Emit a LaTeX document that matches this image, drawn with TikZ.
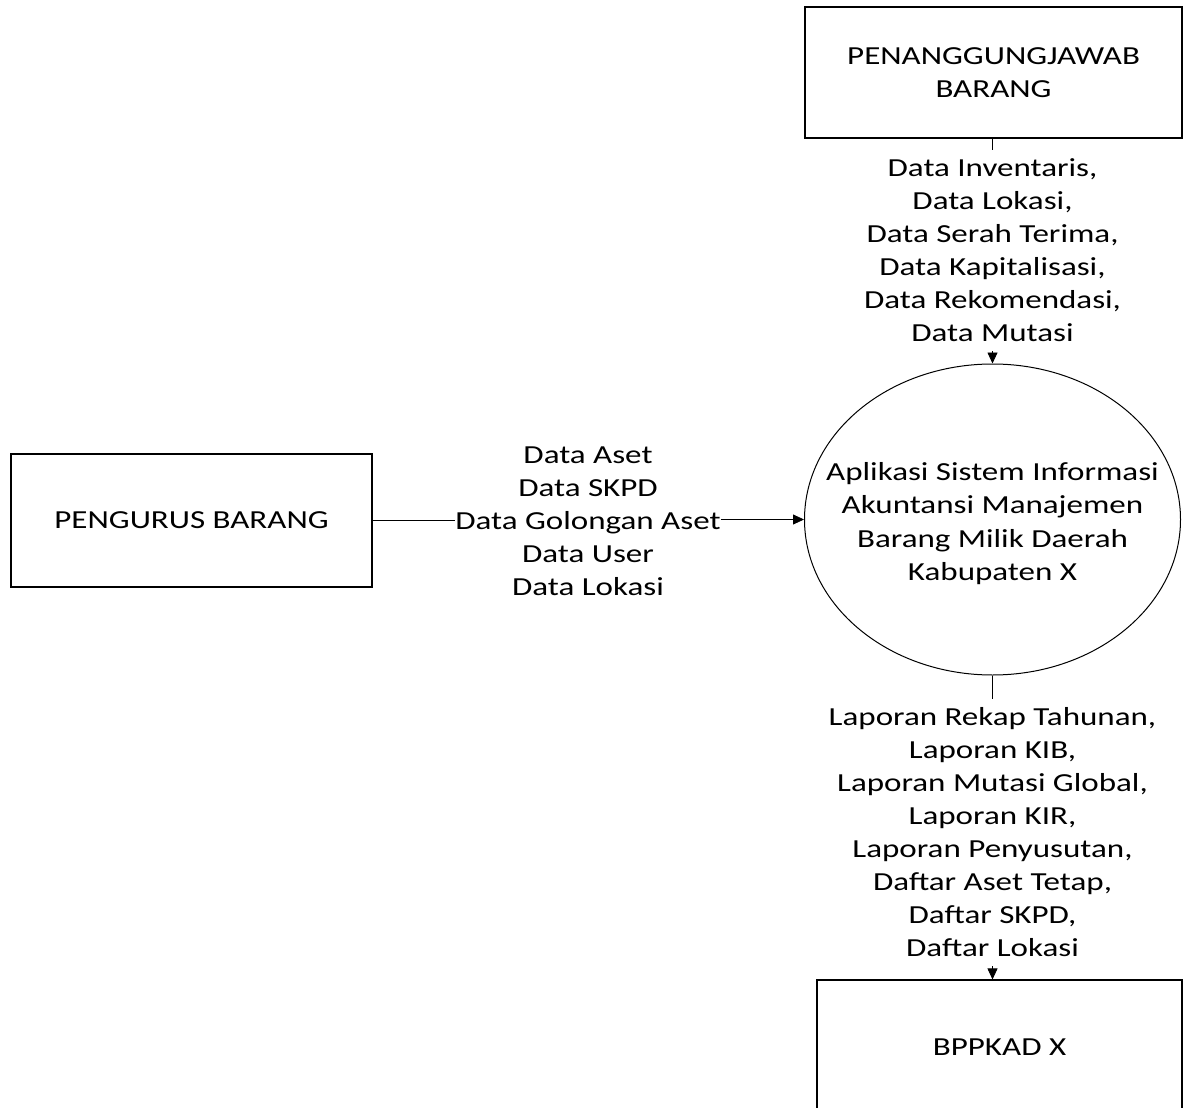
\documentclass[tikz,border=0pt]{standalone}
\usepackage{fontspec}
\setmainfont{Carlito}[FakeStretch=1.27]
\usetikzlibrary{arrows.meta,shapes.geometric}
\begin{document}
\begin{tikzpicture}[x=1pt,y=-1pt,
  every node/.style={font=\fontsize{26}{33}\selectfont},
  entity/.style={draw, line width=1.1pt, inner sep=0pt, align=center},
  proc/.style={draw, ellipse, line width=1pt, inner sep=0pt},
  flowlabel/.style={align=center, inner xsep=0pt, inner ysep=9pt},
  conn/.style={line width=0.8pt},
  arr/.style={conn, -{Triangle[width=10pt,length=11pt]}}]
\useasboundingbox[fill=white] (0,0) rectangle (1189,1108);
\clip (0,0) rectangle (1189,1108);

% entities
\node[entity, minimum width=377, minimum height=131] (pj) at (993.5,72.5)
  {PENANGGUNGJAWAB\\BARANG};
\node[entity, minimum width=361, minimum height=133] (pg) at (191.5,520.5)
  {PENGURUS BARANG};
\node[entity, minimum width=365, minimum height=134] (bp) at (999.5,1047)
  {BPPKAD X};

% process
\node[proc, minimum width=376, minimum height=311] (proc) at (992.5,519.5) {};
\node[align=center, inner sep=0pt, font=\fontsize{26}{33.5}\selectfont] (proctext) at (992.5,523.4)
  {Aplikasi Sistem Informasi\\Akuntansi Manajemen\\Barang Milik Daerah\\Kabupaten X};

% flow labels
\node[flowlabel] (l1) at (992.5,250.5)
  {Data Inventaris,\\Data Lokasi,\\Data Serah Terima,\\Data Kapitalisasi,\\Data Rekomendasi,\\Data Mutasi};
\node[flowlabel] (l2) at (588,521)
  {Data Aset\\Data SKPD\\Data Golongan Aset\\Data User\\Data Lokasi};
\node[flowlabel] (l3) at (992.5,832.4)
  {Laporan Rekap Tahunan,\\Laporan KIB,\\Laporan Mutasi Global,\\Laporan KIR,\\Laporan Penyusutan,\\Daftar Aset Tetap,\\Daftar SKPD,\\Daftar Lokasi};

% connectors
\draw[conn] (l1.north |- pj.south) -- (l1.north);
\draw[arr] (l1.south) -- (l1.south |- proc.north);
\draw[conn] (pg.east) -- (pg.east -| l2.west);
\draw[arr] (l2.east |- proc.west) -- (proc.west);
\draw[conn] (l3.north |- proc.south) -- (l3.north);
\draw[arr] (l3.south) -- (l3.south |- bp.north);
\end{tikzpicture}
\end{document}
